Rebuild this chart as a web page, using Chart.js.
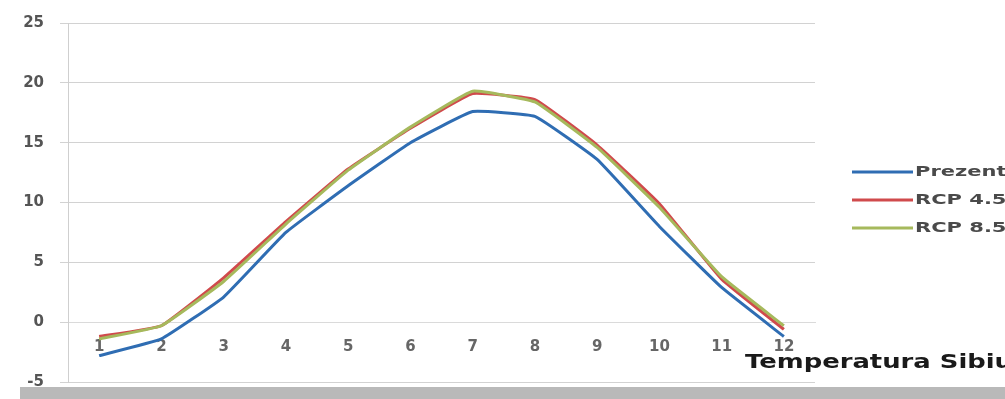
<!DOCTYPE html>
<html>
<head>
<meta charset="utf-8">
<script src="https://cdn.jsdelivr.net/npm/chart.js@4"></script>
<style>
    html, body { margin: 0; padding: 0; background: #fff; overflow: hidden; }
    #wrap { position: relative; width: 1005px; height: 399px; overflow: hidden; }
    #tempChart { position: absolute; left: 0; top: -2px; }
    #bottom-bar { position: absolute; left: 20px; right: 0; top: 387px; height: 12px; background: #b9b9b9; }
</style>
</head>
<body>
<div id="wrap">
    <canvas id="tempChart" width="1005" height="409"></canvas>
    <div id="bottom-bar"></div>
</div>
<script>
const months = ['1', '2', '3', '4', '5', '6', '7', '8', '9', '10', '11', '12'];
const yTicks = [-5, 0, 5, 10, 15, 20, 25];
const prezent = [-2.8, -1.4, 2.1, 7.5, 11.4, 15.0, 17.6, 17.2, 13.6, 8.0, 2.9, -1.2];
const rcp45 = [-1.2, -0.3, 3.7, 8.4, 12.8, 16.2, 19.1, 18.6, 14.8, 9.9, 3.6, -0.6];
const rcp85 = [-1.4, -0.3, 3.4, 8.2, 12.7, 16.3, 19.3, 18.4, 14.6, 9.6, 3.8, -0.3];
const chartTitle = 'Temperatura Sibiu';

const FONT = '"DejaVu Sans", Verdana, sans-serif';
const SHIFT = 2; // canvas sits 2px above the page top

// stretched text, the source picture is widened
function drawWide(ctx, text, x, y, font, color, sx) {
    ctx.save();
    ctx.font = font;
    ctx.fillStyle = color;
    ctx.textBaseline = 'middle';
    ctx.textAlign = 'left';
    ctx.translate(x, y + SHIFT);
    ctx.scale(sx, 1);
    ctx.fillText(text, 0, 0);
    ctx.restore();
}

const sideTexts = {
    id: 'sideTexts',
    afterDraw(chart) {
        const ctx = chart.ctx;
        // legend on the right
        chart.data.datasets.forEach((ds, i) => {
            const y = 172 + i * 28;
            ctx.save();
            ctx.strokeStyle = ds.borderColor;
            ctx.lineWidth = 3;
            ctx.beginPath();
            ctx.moveTo(852, y + SHIFT);
            ctx.lineTo(913, y + SHIFT);
            ctx.stroke();
            ctx.restore();
            drawWide(ctx, ds.label, 915, y, 'bold 14px ' + FONT, '#4a4a4a', 1.5);
        });
        // title bottom right
        ctx.save();
        ctx.font = 'bold 19px ' + FONT;
        const w = ctx.measureText(chartTitle).width;
        ctx.restore();
        drawWide(ctx, chartTitle, 745, 363, 'bold 19px ' + FONT, '#1a1a1a', 268 / w);
    }
};

const ctx = document.getElementById('tempChart').getContext('2d');
new Chart(ctx, {
    type: 'line',
    data: {
        labels: months,
        datasets: [
            { label: 'Prezent', data: prezent, borderColor: '#2f6db3', order: 1 },
            { label: 'RCP 4.5', data: rcp45, borderColor: '#d04a4c', order: 3 },
            { label: 'RCP 8.5', data: rcp85, borderColor: '#a6b95c', order: 2 }
        ].map(d => Object.assign(d, {
            borderWidth: 3,
            pointRadius: 0,
            tension: 0.1,
            fill: false
        }))
    },
    options: {
        responsive: false,
        animation: false,
        layout: { padding: { left: 0, top: 21, right: 190, bottom: 8 } },
        plugins: {
            legend: { display: false },
            tooltip: { enabled: false }
        },
        scales: {
            x: {
                position: { y: 0 },
                offset: true,
                grid: { display: false, drawTicks: true, tickLength: 5, color: '#c8c8c8' },
                border: { display: true, color: '#dadada', width: 1 },
                ticks: {
                    color: '#666',
                    padding: 11,
                    font: { family: FONT, size: 15, weight: 'bold' }
                }
            },
            y: {
                min: -5,
                max: 25,
                afterFit: scale => { scale.width = 68; },
                afterBuildTicks: scale => { scale.ticks = yTicks.map(v => ({ value: v })); },
                grid: { color: '#d2d2d2', tickLength: 8 },
                border: { display: true, color: '#cfcfcf' },
                ticks: {
                    color: '#555',
                    padding: 16,
                    font: { family: FONT, size: 15, weight: 'bold' }
                }
            }
        }
    },
    plugins: [sideTexts]
});
</script>
</body>
</html>
